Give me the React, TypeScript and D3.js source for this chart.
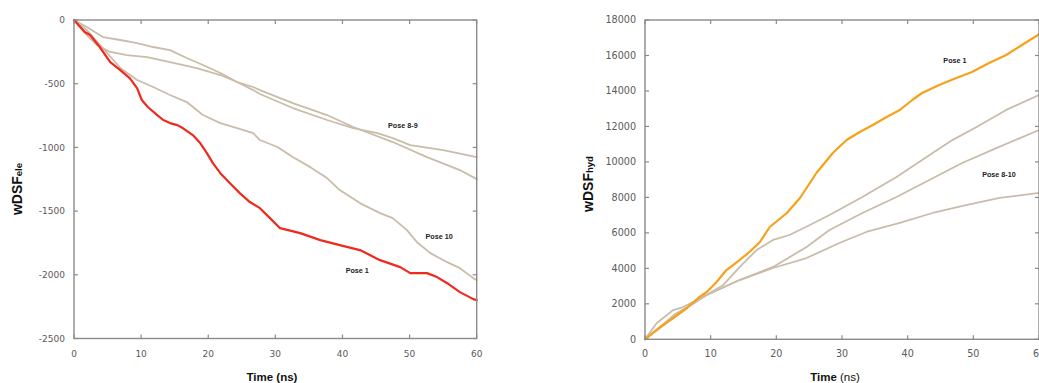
import React from "react";
import * as d3 from "d3";

// ---------- Left chart (wDSF ele) ----------
const eleTicksX = [0, 10, 20, 30, 40, 50, 60];
const eleTicksY = [0, -500, -1000, -1500, -2000, -2500];

const elePose1: [number, number][] = [
  [0, 0], [1.6, -94], [2.4, -118], [3.8, -210], [5.4, -330], [6.9, -393], [8.3, -456], [9.4, -534],
  [10.1, -628], [11.0, -683], [12.4, -746], [13.3, -785], [14.3, -809], [15.4, -825], [16.2, -848],
  [17.7, -903], [18.8, -966], [19.8, -1045], [20.7, -1123], [21.8, -1202], [23.2, -1280], [24.7, -1359],
  [26.2, -1429], [27.7, -1477], [29.2, -1555], [30.7, -1634], [33.7, -1673], [36.7, -1728], [39.6, -1767],
  [42.6, -1806], [45.6, -1885], [48.6, -1940], [50.1, -1987], [52.6, -1987], [54.1, -2018], [55.6, -2066],
  [57.5, -2136], [59.5, -2191], [60, -2200],
];
const elePoseA: [number, number][] = [
  [0, 0], [1.9, -55], [4.3, -134], [6.9, -157], [9.4, -181], [11.8, -212], [14.3, -236], [16.8, -298],
  [19.2, -353], [21.8, -416], [24.3, -487], [26.7, -526], [27.7, -550], [32.6, -652], [37.7, -746],
  [41.6, -840], [47.5, -958], [52.6, -1076], [57.5, -1178], [60, -1249],
];
const elePoseB: [number, number][] = [
  [0, 0], [1.9, -118], [3.4, -196], [5.4, -251], [7.9, -275], [10.9, -291], [14.3, -330], [18.3, -377],
  [21.8, -432], [24.3, -487], [26.7, -550], [27.7, -581], [32.6, -691], [37.7, -785], [41.6, -848],
  [45.2, -888], [47.5, -927], [50.1, -982], [55.0, -1021], [60, -1076],
];
const elePose10: [number, number][] = [
  [0, 0], [1.9, -79], [4.3, -220], [6.9, -377], [9.4, -471], [11.8, -526], [14.3, -589], [16.8, -644],
  [19.2, -746], [21.8, -809], [24.3, -848], [26.7, -888], [27.7, -942], [30.3, -997], [32.6, -1076],
  [35.2, -1155], [37.7, -1241], [39.6, -1335], [42.6, -1437], [45.6, -1516], [47.5, -1555], [49.6, -1649],
  [51.1, -1744], [53.1, -1830], [55.6, -1901], [57.5, -1948], [59.5, -2026], [60, -2042],
];

// ---------- Right chart (wDSF hyd) ----------
const hydTicksX = [0, 10, 20, 30, 40, 50, 60];
const hydTicksY = [0, 2000, 4000, 6000, 8000, 10000, 12000, 14000, 16000, 18000];

const hydPose1: [number, number][] = [
  [0, 0], [2.3, 693], [4.3, 1201], [6.4, 1764], [8.1, 2328], [9.4, 2666], [10.9, 3230], [12.4, 3906],
  [14.4, 4470], [15.9, 4921], [17.5, 5485], [19.0, 6330], [21.6, 7120], [23.6, 7965], [26.1, 9375],
  [28.6, 10502], [30.7, 11235], [32.7, 11686], [34.7, 12080], [36.8, 12531], [38.8, 12926], [40.7, 13490],
  [42.2, 13884], [44.8, 14335], [47.4, 14730], [49.8, 15068], [52.4, 15575], [55.0, 16026], [57.4, 16590],
  [59.6, 17097], [60, 17210],
];
const hydPoseA: [number, number][] = [
  [0, 0], [1.8, 920], [4.3, 1650], [5.8, 1820], [7.3, 2100], [9.4, 2500], [11.9, 3060], [14.4, 4070],
  [17.0, 5030], [19.5, 5600], [22.0, 5880], [25.1, 6440], [28.1, 7010], [33.1, 8020], [38.3, 9150],
  [42.2, 10110], [46.8, 11230], [50.5, 11970], [55.0, 12930], [60, 13770],
];
const hydPoseB: [number, number][] = [
  [0, 0], [2.3, 640], [4.6, 1310], [7.3, 2050], [9.4, 2500], [14.4, 3340], [19.5, 4080], [24.6, 5200],
  [28.1, 6160], [33.1, 7120], [38.3, 8020], [43.3, 8980], [48.3, 9940], [53.5, 10780], [60, 11800],
];
const hydPoseC: [number, number][] = [
  [0, 0], [2.3, 690], [4.6, 1430], [7.3, 1990], [9.4, 2500], [14.4, 3340], [19.5, 4020], [24.6, 4580],
  [29.6, 5430], [33.7, 6050], [38.8, 6560], [43.8, 7120], [48.9, 7570], [54.0, 7970], [60, 8250],
];

const RED = "#ee2a1f";
const ORANGE = "#f7a11a";
const BEIGE = "#c9bcaa";
const AXIS = "#8a8a8a";
const TICKTXT = "#5a5a5a";
const FONT = "'Liberation Sans', Arial, sans-serif";
const TICKFONT = "'DejaVu Sans', Verdana, sans-serif";

type Pt = [number, number];

function Panel(props: {
  x0: number; x1: number; y0: number; y1: number;
  xDomain: [number, number]; yDomain: [number, number];
  xTicks: number[]; yTicks: number[]; tickFont: number;
  series: { data: Pt[]; color: string; width: number }[];
  labels: { text: string; t: number; v: number }[];
  yLabelMain: string; yLabelSub: string; yLabelX: number; yLabelY: number;
  xLabelX: number; xBoldAll: boolean;
}) {
  const x = d3.scaleLinear().domain(props.xDomain).range([props.x0, props.x1]);
  const y = d3.scaleLinear().domain(props.yDomain).range([props.y1, props.y0]);
  const line = d3.line<Pt>().x((d) => x(d[0])).y((d) => y(d[1]));
  const tl = 4;
  return (
    <g>
      {props.series.map((s, i) => (
        <path key={i} d={line(s.data) || ""} fill="none" stroke={s.color} strokeWidth={s.width}
          strokeLinejoin="round" strokeLinecap="round" />
      ))}
      <rect x={props.x0} y={props.y0} width={props.x1 - props.x0} height={props.y1 - props.y0}
        fill="none" stroke={AXIS} strokeWidth={1.4} />
      {props.xTicks.map((t) => (
        <g key={"xt" + t}>
          <line x1={x(t)} x2={x(t)} y1={props.y1} y2={props.y1 - tl} stroke={AXIS} strokeWidth={1.2} />
          <line x1={x(t)} x2={x(t)} y1={props.y0} y2={props.y0 + tl} stroke={AXIS} strokeWidth={1.2} />
          <text x={x(t)} y={357} textAnchor="middle" fontSize={props.tickFont} fill={TICKTXT}
            fontFamily={TICKFONT}>{t}</text>
        </g>
      ))}
      {props.yTicks.map((v) => (
        <g key={"yt" + v}>
          <line x1={props.x0} x2={props.x0 + tl} y1={y(v)} y2={y(v)} stroke={AXIS} strokeWidth={1.2} />
          <line x1={props.x1} x2={props.x1 - tl} y1={y(v)} y2={y(v)} stroke={AXIS} strokeWidth={1.2} />
          <text x={props.x0 - 9} y={y(v)} dy="0.35em" textAnchor="end" fontSize={props.tickFont}
            fill={TICKTXT} fontFamily={TICKFONT}>{v}</text>
        </g>
      ))}
      {props.labels.map((l, i) => (
        <text key={"l" + i} x={x(l.t)} y={y(l.v)} dy="0.35em" textAnchor="middle" fontSize={7.2}
          fontWeight="bold" fill="#222" fontFamily={FONT}>{l.text}</text>
      ))}
      <text transform={`translate(${props.yLabelX},${props.yLabelY}) rotate(-90)`} textAnchor="middle"
        fontFamily={FONT} fill="#111" fontWeight="bold">
        <tspan fontSize={14}>{props.yLabelMain}</tspan>
        <tspan fontSize={9.5}>{props.yLabelSub}</tspan>
      </text>
      <text x={props.xLabelX} y={381} textAnchor="middle" fontFamily={FONT} fontSize={11.5} fill="#111">
        <tspan fontWeight="bold">Time</tspan>
        <tspan fontWeight={props.xBoldAll ? "bold" : "normal"}> (ns)</tspan>
      </text>
    </g>
  );
}

export default function App() {
  return (
    <svg width={1039} height={383} style={{ position: "absolute", left: 0, top: 0, background: "#fff" }}>
      <rect x={0} y={0} width={1039} height={383} fill="#fff" />
      <Panel
        x0={74} x1={476.7} y0={20} y1={338.5}
        xDomain={[0, 60]} yDomain={[-2500, 0]}
        xTicks={eleTicksX} yTicks={eleTicksY} tickFont={9}
        series={[
          { data: elePoseA, color: BEIGE, width: 1.8 },
          { data: elePoseB, color: BEIGE, width: 1.8 },
          { data: elePose10, color: BEIGE, width: 1.8 },
          { data: elePose1, color: RED, width: 2.2 },
        ]}
        labels={[
          { text: "Pose 8-9", t: 49, v: -830 },
          { text: "Pose 10", t: 54.4, v: -1700 },
          { text: "Pose 1", t: 42.2, v: -1965 },
        ]}
        yLabelMain="wDSF" yLabelSub="ele" yLabelX={22} yLabelY={189}
        xLabelX={272} xBoldAll={true}
      />
      <Panel
        x0={645} x1={1039} y0={20} y1={339.3}
        xDomain={[0, 60]} yDomain={[0, 18000]}
        xTicks={hydTicksX} yTicks={hydTicksY} tickFont={9.6}
        series={[
          { data: hydPoseA, color: BEIGE, width: 1.8 },
          { data: hydPoseB, color: BEIGE, width: 1.8 },
          { data: hydPoseC, color: BEIGE, width: 1.8 },
          { data: hydPose1, color: ORANGE, width: 2.2 },
        ]}
        labels={[
          { text: "Pose 1", t: 47.2, v: 15700 },
          { text: "Pose 8-10", t: 53.9, v: 9270 },
        ]}
        yLabelMain="wDSF" yLabelSub="hyd" yLabelX={593} yLabelY={184}
        xLabelX={835} xBoldAll={false}
      />
    </svg>
  );
}
